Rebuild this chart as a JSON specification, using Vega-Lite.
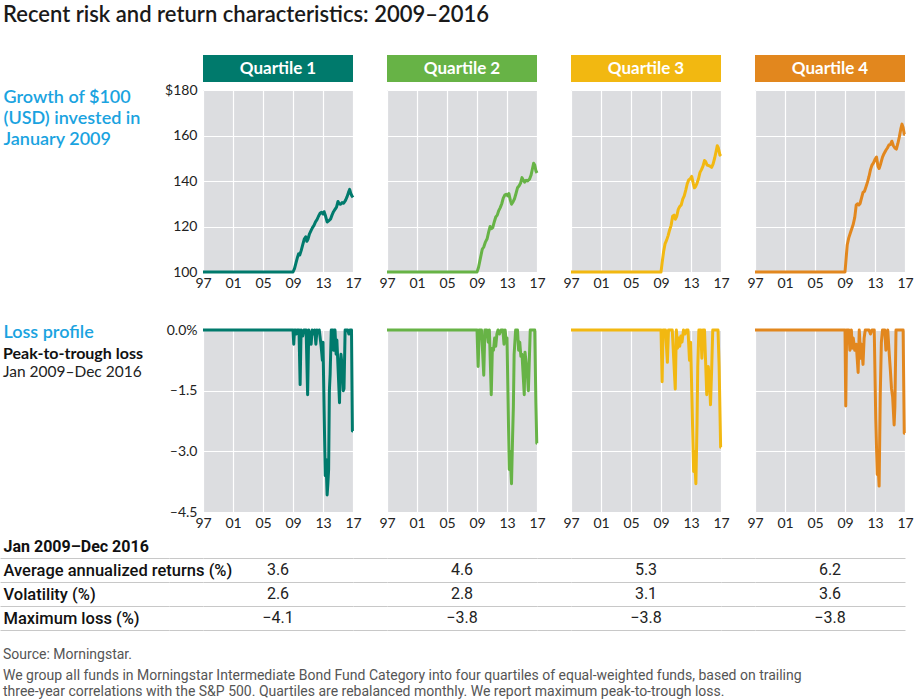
{
"$schema":"https://vega.github.io/schema/vega-lite/v6.json",
"background":"#ffffff",
"padding":{"left":0,"top":4,"right":4,"bottom":4},
"autosize":{"type":"pad"},
"title":{"text":"Recent risk and return characteristics: 2009–2016","anchor":"start","frame":"group","dx":3,"offset":28,"font":"Lato","fontSize":22,"fontWeight":600,"color":"#1a1a1a"},
"config":{
 "font":"Lato",
 "view":{"stroke":null},
 "axis":{"labelFont":"Lato","labelFontSize":14,"labelColor":"#222222","ticks":false,"domain":false,"grid":true,"gridColor":"#ffffff","gridWidth":1.2,"labelFlush":false,"labelOverlap":false}
},
"datasets":{
 "headers":[{"q":"Q1","label":"Quartile 1"},{"q":"Q2","label":"Quartile 2"},{"q":"Q3","label":"Quartile 3"},{"q":"Q4","label":"Quartile 4"}],
 "table":[
  {"q":"Q1","metric":"Average annualized returns (%)","value":3.6},{"q":"Q1","metric":"Volatility (%)","value":2.6},{"q":"Q1","metric":"Maximum loss (%)","value":-4.1},
  {"q":"Q2","metric":"Average annualized returns (%)","value":4.6},{"q":"Q2","metric":"Volatility (%)","value":2.8},{"q":"Q2","metric":"Maximum loss (%)","value":-3.8},
  {"q":"Q3","metric":"Average annualized returns (%)","value":5.3},{"q":"Q3","metric":"Volatility (%)","value":3.1},{"q":"Q3","metric":"Maximum loss (%)","value":-3.8},
  {"q":"Q4","metric":"Average annualized returns (%)","value":6.2},{"q":"Q4","metric":"Volatility (%)","value":3.6},{"q":"Q4","metric":"Maximum loss (%)","value":-3.8}
 ],
 "growth":[
  {"q":"Q1","year":1997,"value":100},{"q":"Q1","year":2009.0,"value":100},{"q":"Q1","year":2009.2,"value":101.5},{"q":"Q1","year":2009.4,"value":104},{"q":"Q1","year":2009.6,"value":106.5},{"q":"Q1","year":2009.75,"value":108},{"q":"Q1","year":2009.9,"value":107.5},{"q":"Q1","year":2010.1,"value":109.5},{"q":"Q1","year":2010.3,"value":112},{"q":"Q1","year":2010.5,"value":114.5},{"q":"Q1","year":2010.7,"value":115.5},{"q":"Q1","year":2010.85,"value":113.5},{"q":"Q1","year":2011.0,"value":114.5},{"q":"Q1","year":2011.2,"value":116.8},{"q":"Q1","year":2011.45,"value":118.5},{"q":"Q1","year":2011.6,"value":119.5},{"q":"Q1","year":2011.8,"value":120.5},{"q":"Q1","year":2012.0,"value":122},{"q":"Q1","year":2012.2,"value":123},{"q":"Q1","year":2012.4,"value":124.5},{"q":"Q1","year":2012.6,"value":125.8},{"q":"Q1","year":2012.8,"value":126.2},{"q":"Q1","year":2013.0,"value":125.5},{"q":"Q1","year":2013.15,"value":126.5},{"q":"Q1","year":2013.35,"value":124.5},{"q":"Q1","year":2013.55,"value":122},{"q":"Q1","year":2013.75,"value":122.5},{"q":"Q1","year":2014.0,"value":123.2},{"q":"Q1","year":2014.2,"value":125},{"q":"Q1","year":2014.4,"value":126.5},{"q":"Q1","year":2014.6,"value":127.5},{"q":"Q1","year":2014.8,"value":128.5},{"q":"Q1","year":2015.0,"value":131},{"q":"Q1","year":2015.15,"value":130},{"q":"Q1","year":2015.35,"value":129.8},{"q":"Q1","year":2015.55,"value":130.5},{"q":"Q1","year":2015.75,"value":130.2},{"q":"Q1","year":2016.0,"value":131.5},{"q":"Q1","year":2016.2,"value":133},{"q":"Q1","year":2016.4,"value":135},{"q":"Q1","year":2016.55,"value":136.3},{"q":"Q1","year":2016.7,"value":134.5},{"q":"Q1","year":2016.85,"value":133.5},{"q":"Q1","year":2017.0,"value":132.8},
  {"q":"Q2","year":1997,"value":100},{"q":"Q2","year":2009.0,"value":100},{"q":"Q2","year":2009.2,"value":102},{"q":"Q2","year":2009.45,"value":106},{"q":"Q2","year":2009.7,"value":110},{"q":"Q2","year":2009.9,"value":111},{"q":"Q2","year":2010.1,"value":113},{"q":"Q2","year":2010.35,"value":114.6},{"q":"Q2","year":2010.55,"value":117.5},{"q":"Q2","year":2010.75,"value":120},{"q":"Q2","year":2010.9,"value":119},{"q":"Q2","year":2011.1,"value":119.5},{"q":"Q2","year":2011.3,"value":122},{"q":"Q2","year":2011.5,"value":124.2},{"q":"Q2","year":2011.7,"value":125},{"q":"Q2","year":2011.9,"value":127},{"q":"Q2","year":2012.1,"value":128.3},{"q":"Q2","year":2012.3,"value":130},{"q":"Q2","year":2012.5,"value":132.5},{"q":"Q2","year":2012.7,"value":133.8},{"q":"Q2","year":2012.9,"value":134.2},{"q":"Q2","year":2013.1,"value":133.5},{"q":"Q2","year":2013.25,"value":134.5},{"q":"Q2","year":2013.45,"value":131.5},{"q":"Q2","year":2013.6,"value":129.8},{"q":"Q2","year":2013.8,"value":130.8},{"q":"Q2","year":2014.0,"value":132.2},{"q":"Q2","year":2014.2,"value":134.5},{"q":"Q2","year":2014.4,"value":137},{"q":"Q2","year":2014.6,"value":137.8},{"q":"Q2","year":2014.8,"value":139},{"q":"Q2","year":2015.0,"value":141.5},{"q":"Q2","year":2015.15,"value":140.5},{"q":"Q2","year":2015.35,"value":139.5},{"q":"Q2","year":2015.55,"value":140.3},{"q":"Q2","year":2015.75,"value":140},{"q":"Q2","year":2016.0,"value":140.8},{"q":"Q2","year":2016.2,"value":142.5},{"q":"Q2","year":2016.4,"value":145.5},{"q":"Q2","year":2016.55,"value":147.8},{"q":"Q2","year":2016.7,"value":147},{"q":"Q2","year":2016.85,"value":144.5},{"q":"Q2","year":2017.0,"value":143.5},
  {"q":"Q3","year":1997,"value":100},{"q":"Q3","year":2009.0,"value":100},{"q":"Q3","year":2009.15,"value":104},{"q":"Q3","year":2009.35,"value":109},{"q":"Q3","year":2009.55,"value":112.5},{"q":"Q3","year":2009.75,"value":114},{"q":"Q3","year":2009.95,"value":116},{"q":"Q3","year":2010.15,"value":118.5},{"q":"Q3","year":2010.35,"value":120.5},{"q":"Q3","year":2010.55,"value":124.5},{"q":"Q3","year":2010.75,"value":125},{"q":"Q3","year":2010.9,"value":123.2},{"q":"Q3","year":2011.1,"value":124.5},{"q":"Q3","year":2011.3,"value":127.5},{"q":"Q3","year":2011.5,"value":128.8},{"q":"Q3","year":2011.7,"value":129.5},{"q":"Q3","year":2011.9,"value":132},{"q":"Q3","year":2012.1,"value":133.5},{"q":"Q3","year":2012.3,"value":136},{"q":"Q3","year":2012.5,"value":138.8},{"q":"Q3","year":2012.7,"value":140.5},{"q":"Q3","year":2012.9,"value":141},{"q":"Q3","year":2013.1,"value":142},{"q":"Q3","year":2013.3,"value":139},{"q":"Q3","year":2013.45,"value":137},{"q":"Q3","year":2013.6,"value":137.5},{"q":"Q3","year":2013.8,"value":139},{"q":"Q3","year":2014.0,"value":141},{"q":"Q3","year":2014.2,"value":143.8},{"q":"Q3","year":2014.4,"value":145},{"q":"Q3","year":2014.6,"value":146.5},{"q":"Q3","year":2014.8,"value":149},{"q":"Q3","year":2014.95,"value":148.5},{"q":"Q3","year":2015.15,"value":147},{"q":"Q3","year":2015.35,"value":146.8},{"q":"Q3","year":2015.55,"value":146.5},{"q":"Q3","year":2015.75,"value":146},{"q":"Q3","year":2015.95,"value":147.5},{"q":"Q3","year":2016.15,"value":150},{"q":"Q3","year":2016.35,"value":153},{"q":"Q3","year":2016.5,"value":155.5},{"q":"Q3","year":2016.65,"value":154.5},{"q":"Q3","year":2016.85,"value":151.5},{"q":"Q3","year":2017.0,"value":151},
  {"q":"Q4","year":1997,"value":100},{"q":"Q4","year":2009.0,"value":100},{"q":"Q4","year":2009.15,"value":106},{"q":"Q4","year":2009.3,"value":112},{"q":"Q4","year":2009.5,"value":115},{"q":"Q4","year":2009.7,"value":117},{"q":"Q4","year":2009.9,"value":119},{"q":"Q4","year":2010.1,"value":121},{"q":"Q4","year":2010.3,"value":124},{"q":"Q4","year":2010.5,"value":129.5},{"q":"Q4","year":2010.7,"value":130},{"q":"Q4","year":2010.85,"value":129.5},{"q":"Q4","year":2011.0,"value":130},{"q":"Q4","year":2011.2,"value":132.5},{"q":"Q4","year":2011.4,"value":135},{"q":"Q4","year":2011.6,"value":135.5},{"q":"Q4","year":2011.8,"value":137.5},{"q":"Q4","year":2012.0,"value":139.5},{"q":"Q4","year":2012.2,"value":142},{"q":"Q4","year":2012.4,"value":145},{"q":"Q4","year":2012.6,"value":147},{"q":"Q4","year":2012.8,"value":148},{"q":"Q4","year":2013.0,"value":149.5},{"q":"Q4","year":2013.2,"value":150.5},{"q":"Q4","year":2013.4,"value":146.5},{"q":"Q4","year":2013.55,"value":145.5},{"q":"Q4","year":2013.75,"value":147.5},{"q":"Q4","year":2014.0,"value":150.5},{"q":"Q4","year":2014.2,"value":152},{"q":"Q4","year":2014.45,"value":153.5},{"q":"Q4","year":2014.65,"value":154.5},{"q":"Q4","year":2014.85,"value":155.8},{"q":"Q4","year":2015.05,"value":156},{"q":"Q4","year":2015.25,"value":157.5},{"q":"Q4","year":2015.45,"value":155.5},{"q":"Q4","year":2015.65,"value":154.5},{"q":"Q4","year":2015.85,"value":154},{"q":"Q4","year":2016.05,"value":156.5},{"q":"Q4","year":2016.25,"value":159.5},{"q":"Q4","year":2016.45,"value":163},{"q":"Q4","year":2016.6,"value":165},{"q":"Q4","year":2016.75,"value":163.5},{"q":"Q4","year":2016.9,"value":160.5},{"q":"Q4","year":2017.0,"value":160.5}
 ],
 "loss":[
  {"q":"Q1","year":1997,"value":0},{"q":"Q1","year":2009.0,"value":0},{"q":"Q1","year":2009.1,"value":-0.35},{"q":"Q1","year":2009.2,"value":0},{"q":"Q1","year":2009.35,"value":0},{"q":"Q1","year":2009.45,"value":-0.1},{"q":"Q1","year":2009.55,"value":0},{"q":"Q1","year":2009.8,"value":0},{"q":"Q1","year":2009.95,"value":-1.35},{"q":"Q1","year":2010.08,"value":0},{"q":"Q1","year":2010.3,"value":-0.15},{"q":"Q1","year":2010.45,"value":0},{"q":"Q1","year":2010.75,"value":0},{"q":"Q1","year":2010.95,"value":-1.6},{"q":"Q1","year":2011.1,"value":0},{"q":"Q1","year":2011.3,"value":-0.2},{"q":"Q1","year":2011.42,"value":-0.35},{"q":"Q1","year":2011.55,"value":0},{"q":"Q1","year":2011.8,"value":-0.1},{"q":"Q1","year":2011.9,"value":0},{"q":"Q1","year":2012.05,"value":-0.35},{"q":"Q1","year":2012.2,"value":0},{"q":"Q1","year":2012.4,"value":-0.05},{"q":"Q1","year":2012.5,"value":0},{"q":"Q1","year":2012.75,"value":-0.4},{"q":"Q1","year":2012.92,"value":-0.75},{"q":"Q1","year":2013.0,"value":-0.3},{"q":"Q1","year":2013.15,"value":-2.0},{"q":"Q1","year":2013.3,"value":-3.6},{"q":"Q1","year":2013.4,"value":-3.2},{"q":"Q1","year":2013.55,"value":-4.08},{"q":"Q1","year":2013.65,"value":-3.8},{"q":"Q1","year":2013.75,"value":-3.45},{"q":"Q1","year":2013.85,"value":-1.5},{"q":"Q1","year":2013.95,"value":-1.1},{"q":"Q1","year":2014.1,"value":0},{"q":"Q1","year":2014.3,"value":0},{"q":"Q1","year":2014.4,"value":-0.5},{"q":"Q1","year":2014.5,"value":0},{"q":"Q1","year":2014.6,"value":0},{"q":"Q1","year":2014.75,"value":-0.6},{"q":"Q1","year":2014.85,"value":-0.25},{"q":"Q1","year":2015.0,"value":-0.9},{"q":"Q1","year":2015.2,"value":-1.8},{"q":"Q1","year":2015.3,"value":-0.85},{"q":"Q1","year":2015.4,"value":-0.6},{"q":"Q1","year":2015.55,"value":-0.9},{"q":"Q1","year":2015.7,"value":-1.5},{"q":"Q1","year":2015.8,"value":-1.45},{"q":"Q1","year":2015.95,"value":0},{"q":"Q1","year":2016.1,"value":0},{"q":"Q1","year":2016.3,"value":0},{"q":"Q1","year":2016.45,"value":-0.1},{"q":"Q1","year":2016.6,"value":0},{"q":"Q1","year":2016.8,"value":0},{"q":"Q1","year":2016.92,"value":-2.5},{"q":"Q1","year":2017.0,"value":-2.5},
  {"q":"Q2","year":1997,"value":0},{"q":"Q2","year":2009.0,"value":0},{"q":"Q2","year":2009.15,"value":-0.9},{"q":"Q2","year":2009.3,"value":0},{"q":"Q2","year":2009.6,"value":0},{"q":"Q2","year":2009.9,"value":-1.12},{"q":"Q2","year":2010.05,"value":0},{"q":"Q2","year":2010.3,"value":0},{"q":"Q2","year":2010.5,"value":-0.3},{"q":"Q2","year":2010.65,"value":0},{"q":"Q2","year":2010.9,"value":-1.6},{"q":"Q2","year":2011.05,"value":-0.45},{"q":"Q2","year":2011.2,"value":-0.5},{"q":"Q2","year":2011.35,"value":-0.2},{"q":"Q2","year":2011.5,"value":-0.4},{"q":"Q2","year":2011.65,"value":-0.1},{"q":"Q2","year":2011.8,"value":0},{"q":"Q2","year":2012.0,"value":-0.1},{"q":"Q2","year":2012.2,"value":0},{"q":"Q2","year":2012.45,"value":0},{"q":"Q2","year":2012.6,"value":-0.35},{"q":"Q2","year":2012.75,"value":0},{"q":"Q2","year":2012.9,"value":-0.3},{"q":"Q2","year":2013.0,"value":-0.2},{"q":"Q2","year":2013.3,"value":-3.45},{"q":"Q2","year":2013.4,"value":-3.0},{"q":"Q2","year":2013.6,"value":-3.8},{"q":"Q2","year":2013.75,"value":-2.6},{"q":"Q2","year":2013.85,"value":-1.9},{"q":"Q2","year":2013.95,"value":-0.6},{"q":"Q2","year":2014.15,"value":0},{"q":"Q2","year":2014.4,"value":0},{"q":"Q2","year":2014.55,"value":-0.5},{"q":"Q2","year":2014.7,"value":-0.3},{"q":"Q2","year":2014.85,"value":-0.65},{"q":"Q2","year":2015.0,"value":-0.6},{"q":"Q2","year":2015.3,"value":-1.6},{"q":"Q2","year":2015.4,"value":-0.55},{"q":"Q2","year":2015.55,"value":-0.8},{"q":"Q2","year":2015.7,"value":-1.05},{"q":"Q2","year":2015.85,"value":-1.5},{"q":"Q2","year":2015.95,"value":-0.9},{"q":"Q2","year":2016.1,"value":0},{"q":"Q2","year":2016.5,"value":0},{"q":"Q2","year":2016.7,"value":0},{"q":"Q2","year":2016.85,"value":-1.8},{"q":"Q2","year":2016.97,"value":-2.8},{"q":"Q2","year":2017.0,"value":-2.8},
  {"q":"Q3","year":1997,"value":0},{"q":"Q3","year":2009.0,"value":0},{"q":"Q3","year":2009.15,"value":-1.28},{"q":"Q3","year":2009.28,"value":0},{"q":"Q3","year":2009.6,"value":0},{"q":"Q3","year":2009.85,"value":-0.8},{"q":"Q3","year":2010.0,"value":0},{"q":"Q3","year":2010.5,"value":0},{"q":"Q3","year":2010.9,"value":-1.46},{"q":"Q3","year":2011.05,"value":0},{"q":"Q3","year":2011.2,"value":-0.45},{"q":"Q3","year":2011.35,"value":-0.2},{"q":"Q3","year":2011.5,"value":-0.4},{"q":"Q3","year":2011.65,"value":-0.15},{"q":"Q3","year":2011.8,"value":-0.3},{"q":"Q3","year":2012.0,"value":0},{"q":"Q3","year":2012.2,"value":-0.1},{"q":"Q3","year":2012.4,"value":0},{"q":"Q3","year":2012.6,"value":0},{"q":"Q3","year":2012.8,"value":-0.75},{"q":"Q3","year":2012.95,"value":-0.3},{"q":"Q3","year":2013.35,"value":-3.5},{"q":"Q3","year":2013.45,"value":-3.0},{"q":"Q3","year":2013.65,"value":-3.8},{"q":"Q3","year":2013.8,"value":-2.35},{"q":"Q3","year":2013.9,"value":-0.9},{"q":"Q3","year":2014.05,"value":0},{"q":"Q3","year":2014.3,"value":0},{"q":"Q3","year":2014.45,"value":-0.7},{"q":"Q3","year":2014.6,"value":0},{"q":"Q3","year":2014.8,"value":0},{"q":"Q3","year":2015.1,"value":-1.6},{"q":"Q3","year":2015.3,"value":-0.9},{"q":"Q3","year":2015.45,"value":-1.2},{"q":"Q3","year":2015.6,"value":-1.85},{"q":"Q3","year":2015.75,"value":-1.0},{"q":"Q3","year":2015.9,"value":0},{"q":"Q3","year":2016.35,"value":0},{"q":"Q3","year":2016.6,"value":0},{"q":"Q3","year":2016.75,"value":-0.9},{"q":"Q3","year":2016.95,"value":-2.9},{"q":"Q3","year":2017.0,"value":-2.9},
  {"q":"Q4","year":1997,"value":0},{"q":"Q4","year":2009.0,"value":0},{"q":"Q4","year":2009.1,"value":-1.88},{"q":"Q4","year":2009.22,"value":0},{"q":"Q4","year":2009.5,"value":0},{"q":"Q4","year":2009.65,"value":-0.5},{"q":"Q4","year":2009.75,"value":-0.35},{"q":"Q4","year":2009.85,"value":0},{"q":"Q4","year":2009.95,"value":-0.45},{"q":"Q4","year":2010.1,"value":-0.2},{"q":"Q4","year":2010.3,"value":-0.5},{"q":"Q4","year":2010.5,"value":-0.35},{"q":"Q4","year":2010.75,"value":-1.05},{"q":"Q4","year":2010.9,"value":0},{"q":"Q4","year":2011.1,"value":-0.7},{"q":"Q4","year":2011.2,"value":-0.35},{"q":"Q4","year":2011.4,"value":-0.85},{"q":"Q4","year":2011.55,"value":-0.2},{"q":"Q4","year":2011.7,"value":0},{"q":"Q4","year":2012.2,"value":0},{"q":"Q4","year":2012.4,"value":-0.1},{"q":"Q4","year":2012.6,"value":0},{"q":"Q4","year":2012.9,"value":0},{"q":"Q4","year":2013.1,"value":-2.2},{"q":"Q4","year":2013.3,"value":-3.57},{"q":"Q4","year":2013.4,"value":-3.3},{"q":"Q4","year":2013.55,"value":-3.86},{"q":"Q4","year":2013.7,"value":-1.6},{"q":"Q4","year":2013.85,"value":-0.3},{"q":"Q4","year":2014.0,"value":0},{"q":"Q4","year":2014.3,"value":0},{"q":"Q4","year":2014.45,"value":-0.5},{"q":"Q4","year":2014.6,"value":-0.2},{"q":"Q4","year":2014.7,"value":0},{"q":"Q4","year":2014.9,"value":-0.6},{"q":"Q4","year":2015.05,"value":-1.0},{"q":"Q4","year":2015.2,"value":-1.45},{"q":"Q4","year":2015.35,"value":-1.65},{"q":"Q4","year":2015.55,"value":-2.35},{"q":"Q4","year":2015.65,"value":-1.9},{"q":"Q4","year":2015.8,"value":0},{"q":"Q4","year":2016.1,"value":0},{"q":"Q4","year":2016.5,"value":0},{"q":"Q4","year":2016.75,"value":0},{"q":"Q4","year":2016.9,"value":-2.55},{"q":"Q4","year":2017.0,"value":-2.55}
 ]
},
"columns":5,
"spacing":{"row":8,"column":34},
"bounds":"flush",
"align":"each",
"concat":[
 {"width":169,"height":27,"data":{"values":[]},"mark":"point"},
 {"width":150,"height":27,"view":{"fill":"#007a6c","stroke":null},"data":{"name":"headers"},"transform":[{"filter":"datum.q == 'Q1'"}],"mark":{"type":"text","color":"#ffffff","font":"Lato","fontSize":17,"fontWeight":700},"encoding":{"text":{"field":"label"}}},
 {"width":150,"height":27,"view":{"fill":"#67b346","stroke":null},"data":{"name":"headers"},"transform":[{"filter":"datum.q == 'Q2'"}],"mark":{"type":"text","color":"#ffffff","font":"Lato","fontSize":17,"fontWeight":700},"encoding":{"text":{"field":"label"}}},
 {"width":150,"height":27,"view":{"fill":"#f2b811","stroke":null},"data":{"name":"headers"},"transform":[{"filter":"datum.q == 'Q3'"}],"mark":{"type":"text","color":"#ffffff","font":"Lato","fontSize":17,"fontWeight":700},"encoding":{"text":{"field":"label"}}},
 {"width":150,"height":27,"view":{"fill":"#e2871e","stroke":null},"data":{"name":"headers"},"transform":[{"filter":"datum.q == 'Q4'"}],"mark":{"type":"text","color":"#ffffff","font":"Lato","fontSize":17,"fontWeight":700},"encoding":{"text":{"field":"label"}}},

 {"width":169,"height":232,"data":{"values":[]},"mark":"point"},
 {"width":150,"height":182,"view":{"fill":"#dcdde0","stroke":null},"data":{"name":"growth"},"transform":[{"filter":"datum.q == 'Q1'"}],"mark":{"type":"line","color":"#007a6c","strokeWidth":3,"strokeJoin":"round"},
  "encoding":{"x":{"field":"year","type":"quantitative","scale":{"domain":[1997,2017],"nice":false,"zero":false},"axis":{"values":[1997,2001,2005,2009,2013,2017],"labelExpr":"substring(toString(datum.value),2)","labelPadding":4,"title":null}},
   "y":{"field":"value","type":"quantitative","scale":{"domain":[100,180],"nice":false,"zero":false},"axis":{"values":[100,120,140,160,180],"labelExpr":"datum.value == 180 ? '$180' : datum.label","labelPadding":6,"title":["Growth of $100","(USD) invested in","January 2009"],"titleX":-200,"titleY":12,"titleAngle":0,"titleAlign":"left","titleBaseline":"alphabetic","titleColor":"#1aa3e0","titleFont":"Lato","titleFontSize":18,"titleFontWeight":600,"titleLineHeight":21}}}},
 {"width":150,"height":182,"view":{"fill":"#dcdde0","stroke":null},"data":{"name":"growth"},"transform":[{"filter":"datum.q == 'Q2'"}],"mark":{"type":"line","color":"#67b346","strokeWidth":3,"strokeJoin":"round"},
  "encoding":{"x":{"field":"year","type":"quantitative","scale":{"domain":[1997,2017],"nice":false,"zero":false},"axis":{"values":[1997,2001,2005,2009,2013,2017],"labelExpr":"substring(toString(datum.value),2)","labelPadding":4,"title":null}},
   "y":{"field":"value","type":"quantitative","scale":{"domain":[100,180],"nice":false,"zero":false},"axis":{"values":[100,120,140,160,180],"labels":false,"title":null}}}},
 {"width":150,"height":182,"view":{"fill":"#dcdde0","stroke":null},"data":{"name":"growth"},"transform":[{"filter":"datum.q == 'Q3'"}],"mark":{"type":"line","color":"#f2b811","strokeWidth":3,"strokeJoin":"round"},
  "encoding":{"x":{"field":"year","type":"quantitative","scale":{"domain":[1997,2017],"nice":false,"zero":false},"axis":{"values":[1997,2001,2005,2009,2013,2017],"labelExpr":"substring(toString(datum.value),2)","labelPadding":4,"title":null}},
   "y":{"field":"value","type":"quantitative","scale":{"domain":[100,180],"nice":false,"zero":false},"axis":{"values":[100,120,140,160,180],"labels":false,"title":null}}}},
 {"width":150,"height":182,"view":{"fill":"#dcdde0","stroke":null},"data":{"name":"growth"},"transform":[{"filter":"datum.q == 'Q4'"}],"mark":{"type":"line","color":"#e2871e","strokeWidth":3,"strokeJoin":"round"},
  "encoding":{"x":{"field":"year","type":"quantitative","scale":{"domain":[1997,2017],"nice":false,"zero":false},"axis":{"values":[1997,2001,2005,2009,2013,2017],"labelExpr":"substring(toString(datum.value),2)","labelPadding":4,"title":null}},
   "y":{"field":"value","type":"quantitative","scale":{"domain":[100,180],"nice":false,"zero":false},"axis":{"values":[100,120,140,160,180],"labels":false,"title":null}}}},

 {"width":169,"height":220,"data":{"values":[]},"mark":"point",
  "title":{"text":"Peak-to-trough loss","subtitle":"Jan 2009–Dec 2016","anchor":"start","frame":"group","orient":"top","dx":3,"offset":-50,"font":"Lato","fontSize":16,"fontWeight":700,"color":"#111111","subtitleFont":"Lato","subtitleFontSize":15.5,"subtitleFontWeight":400,"subtitleColor":"#222222","subtitlePadding":3}},
 {"width":150,"height":182,"view":{"fill":"#dcdde0","stroke":null},"data":{"name":"loss"},"transform":[{"filter":"datum.q == 'Q1'"}],"mark":{"type":"line","color":"#007a6c","strokeWidth":3,"strokeJoin":"round"},
  "encoding":{"x":{"field":"year","type":"quantitative","scale":{"domain":[1997,2017],"nice":false,"zero":false},"axis":{"values":[1997,2001,2005,2009,2013,2017],"labelExpr":"substring(toString(datum.value),2)","labelPadding":4,"title":null}},
   "y":{"field":"value","type":"quantitative","scale":{"domain":[-4.5,0],"nice":false,"zero":false},"axis":{"values":[0,-1.5,-3,-4.5],"labelExpr":"datum.value == 0 ? '0.0%' : '–' + format(-datum.value, '.1f')","labelPadding":6,"title":"Loss profile","titleX":-200,"titleY":7,"titleAngle":0,"titleAlign":"left","titleBaseline":"alphabetic","titleColor":"#1aa3e0","titleFont":"Lato","titleFontSize":18,"titleFontWeight":600}}}},
 {"width":150,"height":182,"view":{"fill":"#dcdde0","stroke":null},"data":{"name":"loss"},"transform":[{"filter":"datum.q == 'Q2'"}],"mark":{"type":"line","color":"#67b346","strokeWidth":3,"strokeJoin":"round"},
  "encoding":{"x":{"field":"year","type":"quantitative","scale":{"domain":[1997,2017],"nice":false,"zero":false},"axis":{"values":[1997,2001,2005,2009,2013,2017],"labelExpr":"substring(toString(datum.value),2)","labelPadding":4,"title":null}},
   "y":{"field":"value","type":"quantitative","scale":{"domain":[-4.5,0],"nice":false,"zero":false},"axis":{"values":[0,-1.5,-3,-4.5],"labels":false,"title":null}}}},
 {"width":150,"height":182,"view":{"fill":"#dcdde0","stroke":null},"data":{"name":"loss"},"transform":[{"filter":"datum.q == 'Q3'"}],"mark":{"type":"line","color":"#f2b811","strokeWidth":3,"strokeJoin":"round"},
  "encoding":{"x":{"field":"year","type":"quantitative","scale":{"domain":[1997,2017],"nice":false,"zero":false},"axis":{"values":[1997,2001,2005,2009,2013,2017],"labelExpr":"substring(toString(datum.value),2)","labelPadding":4,"title":null}},
   "y":{"field":"value","type":"quantitative","scale":{"domain":[-4.5,0],"nice":false,"zero":false},"axis":{"values":[0,-1.5,-3,-4.5],"labels":false,"title":null}}}},
 {"width":150,"height":182,"view":{"fill":"#dcdde0","stroke":null},"data":{"name":"loss"},"transform":[{"filter":"datum.q == 'Q4'"}],"mark":{"type":"line","color":"#e2871e","strokeWidth":3,"strokeJoin":"round"},
  "encoding":{"x":{"field":"year","type":"quantitative","scale":{"domain":[1997,2017],"nice":false,"zero":false},"axis":{"values":[1997,2001,2005,2009,2013,2017],"labelExpr":"substring(toString(datum.value),2)","labelPadding":4,"title":null}},
   "y":{"field":"value","type":"quantitative","scale":{"domain":[-4.5,0],"nice":false,"zero":false},"axis":{"values":[0,-1.5,-3,-4.5],"labels":false,"title":null}}}},

 {"width":169,"height":72,"data":{"name":"table"},"transform":[{"filter":"datum.q == 'Q1'"}],"mark":{"type":"text","opacity":0},
  "encoding":{"text":{"value":""},"y":{"field":"metric","type":"nominal","sort":["Average annualized returns (%)","Volatility (%)","Maximum loss (%)"],"scale":{"type":"band","paddingInner":0,"paddingOuter":0},
   "axis":{"orient":"left","labelAlign":"left","labelBaseline":"middle","labelPadding":-3,"labelLimit":0,"tickSize":0,"labelFont":"Roboto","labelFontSize":16.5,"labelFontWeight":500,"labelColor":"#111111","grid":true,"gridColor":"#c8c8c8","gridWidth":1,"tickBand":"extent","title":"Jan 2009–Dec 2016","titleX":3,"titleY":-7,"titleAngle":0,"titleAlign":"left","titleBaseline":"alphabetic","titleFont":"Roboto","titleFontSize":16,"titleFontWeight":700,"titleColor":"#111111"}}},
  "title":{"text":"Source: Morningstar.","subtitle":["We group all funds in Morningstar Intermediate Bond Fund Category into four quartiles of equal-weighted funds, based on trailing","three-year correlations with the S&P 500. Quartiles are rebalanced monthly. We report maximum peak-to-trough loss."],"orient":"bottom","anchor":"start","frame":"group","dx":3,"offset":18,"font":"Roboto","fontSize":14,"fontWeight":400,"color":"#555555","subtitleFont":"Roboto","subtitleFontSize":14,"subtitleColor":"#555555","subtitlePadding":7,"subtitleLineHeight":16}},
 {"width":150,"height":72,"data":{"name":"table"},"transform":[{"filter":"datum.q == 'Q1'"}],"mark":{"type":"text","font":"Roboto","fontSize":16,"color":"#222222"},
  "encoding":{"text":{"field":"value","type":"quantitative","format":".1f"},"y":{"field":"metric","type":"nominal","sort":["Average annualized returns (%)","Volatility (%)","Maximum loss (%)"],"scale":{"type":"band","paddingInner":0,"paddingOuter":0},
   "axis":{"orient":"left","labels":false,"ticks":true,"tickSize":34,"tickColor":"#c8c8c8","tickWidth":1,"tickBand":"extent","grid":true,"gridColor":"#c8c8c8","gridWidth":1,"title":null}}}},
 {"width":150,"height":72,"data":{"name":"table"},"transform":[{"filter":"datum.q == 'Q2'"}],"mark":{"type":"text","font":"Roboto","fontSize":16,"color":"#222222"},
  "encoding":{"text":{"field":"value","type":"quantitative","format":".1f"},"y":{"field":"metric","type":"nominal","sort":["Average annualized returns (%)","Volatility (%)","Maximum loss (%)"],"scale":{"type":"band","paddingInner":0,"paddingOuter":0},
   "axis":{"orient":"left","labels":false,"ticks":true,"tickSize":34,"tickColor":"#c8c8c8","tickWidth":1,"tickBand":"extent","grid":true,"gridColor":"#c8c8c8","gridWidth":1,"title":null}}}},
 {"width":150,"height":72,"data":{"name":"table"},"transform":[{"filter":"datum.q == 'Q3'"}],"mark":{"type":"text","font":"Roboto","fontSize":16,"color":"#222222"},
  "encoding":{"text":{"field":"value","type":"quantitative","format":".1f"},"y":{"field":"metric","type":"nominal","sort":["Average annualized returns (%)","Volatility (%)","Maximum loss (%)"],"scale":{"type":"band","paddingInner":0,"paddingOuter":0},
   "axis":{"orient":"left","labels":false,"ticks":true,"tickSize":34,"tickColor":"#c8c8c8","tickWidth":1,"tickBand":"extent","grid":true,"gridColor":"#c8c8c8","gridWidth":1,"title":null}}}},
 {"width":150,"height":72,"data":{"name":"table"},"transform":[{"filter":"datum.q == 'Q4'"}],"mark":{"type":"text","font":"Roboto","fontSize":16,"color":"#222222"},
  "encoding":{"text":{"field":"value","type":"quantitative","format":".1f"},"y":{"field":"metric","type":"nominal","sort":["Average annualized returns (%)","Volatility (%)","Maximum loss (%)"],"scale":{"type":"band","paddingInner":0,"paddingOuter":0},
   "axis":{"orient":"left","labels":false,"ticks":true,"tickSize":34,"tickColor":"#c8c8c8","tickWidth":1,"tickBand":"extent","grid":true,"gridColor":"#c8c8c8","gridWidth":1,"title":null}}}}
]
}
